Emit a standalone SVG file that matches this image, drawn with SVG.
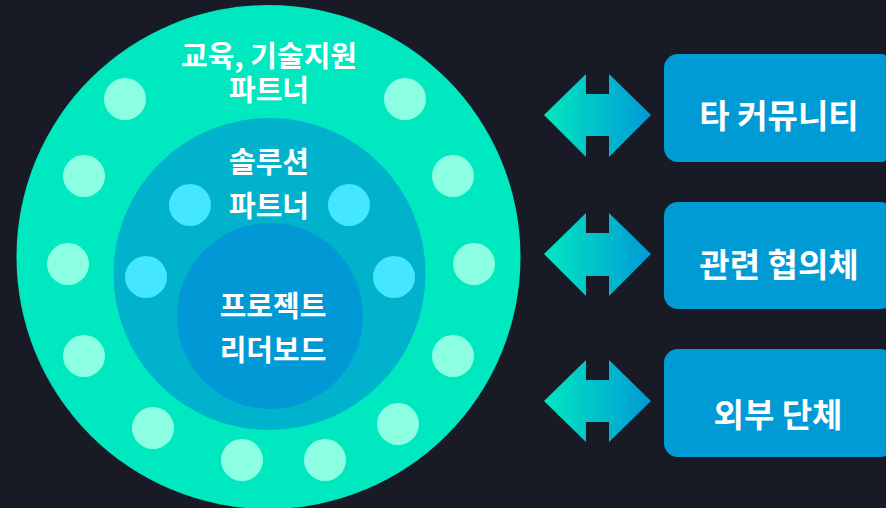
<svg xmlns="http://www.w3.org/2000/svg" width="886" height="508" viewBox="0 0 886 508">
<defs>
<linearGradient id="ag" x1="0" y1="0" x2="1" y2="0">
<stop offset="0" stop-color="#00E8BF"/>
<stop offset="1" stop-color="#0099D6"/>
</linearGradient>
<style>
.t{font-family:"Noto Sans CJK KR","Noto Sans",sans-serif;font-weight:700;fill:#FFFFFF;text-anchor:middle}
.c{font-size:29px}
.b{font-size:33px}
.od{fill:#8CFFE2}
.md{fill:#45E6FF}
.box{fill:#009AD4}
.arr{fill:url(#ag)}
</style>
</defs>
<rect width="886" height="508" fill="#181B26"/>
<g id="outer">
<circle cx="268.5" cy="257" r="252" fill="#00E8BF"/>
<circle class="od" cx="125" cy="99" r="21"/>
<circle class="od" cx="405" cy="99" r="21"/>
<circle class="od" cx="84" cy="176" r="21"/>
<circle class="od" cx="453" cy="176" r="21"/>
<circle class="od" cx="68" cy="264" r="21"/>
<circle class="od" cx="474" cy="264" r="21"/>
<circle class="od" cx="84" cy="356" r="21"/>
<circle class="od" cx="453" cy="356" r="21"/>
<circle class="od" cx="153" cy="428" r="21"/>
<circle class="od" cx="398" cy="424" r="21"/>
<circle class="od" cx="242" cy="460" r="21"/>
<circle class="od" cx="325" cy="460" r="21"/>
<text class="t c" x="269" y="67">교육, 기술지원</text>
<text class="t c" x="269" y="101">파트너</text>
</g>
<g id="middle">
<circle cx="269.5" cy="274" r="156" fill="#00B2CC"/>
<circle class="md" cx="190" cy="205" r="21"/>
<circle class="md" cx="349" cy="205" r="21"/>
<circle class="md" cx="146" cy="277" r="21"/>
<circle class="md" cx="394" cy="277" r="21"/>
<text class="t c" x="269" y="173">솔루션</text>
<text class="t c" x="269" y="217">파트너</text>
</g>
<g id="inner">
<circle cx="270" cy="316" r="93" fill="#0099D6"/>
<text class="t c" x="273" y="317">프로젝트</text>
<text class="t c" x="273" y="361">리더보드</text>
</g>
<g id="connectors">
<path class="arr" d="M544,115 L586,74 L586,94 L609,94 L609,74 L651,115 L609,157 L609,136 L586,136 L586,157 Z"/>
<path class="arr" d="M544,254 L586,213 L586,233 L609,233 L609,213 L651,254 L609,296 L609,276 L586,276 L586,296 Z"/>
<path class="arr" d="M544,401 L586,360 L586,380 L609,380 L609,360 L651,401 L609,442 L609,422 L586,422 L586,442 Z"/>
</g>
<g id="box1">
<rect class="box" x="664" y="54" width="230" height="108" rx="14"/>
<text class="t b" x="779" y="128">타 커뮤니티</text>
</g>
<g id="box2">
<rect class="box" x="664" y="202" width="230" height="107" rx="14"/>
<text class="t b" x="779" y="277">관련 협의체</text>
</g>
<g id="box3">
<rect class="box" x="664" y="349" width="230" height="108" rx="14"/>
<text class="t b" x="778" y="427">외부 단체</text>
</g>
</svg>
